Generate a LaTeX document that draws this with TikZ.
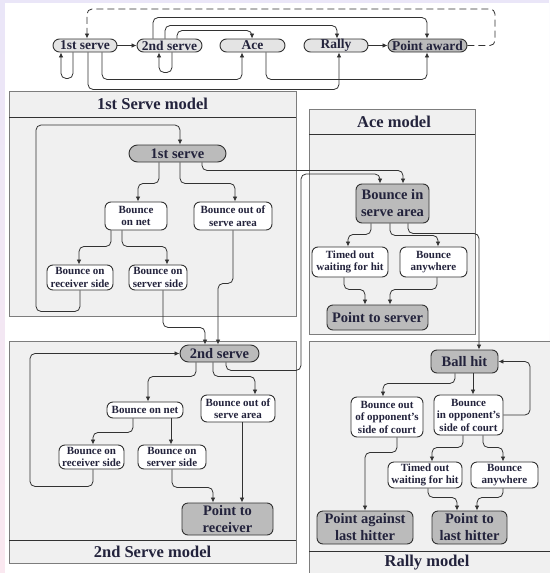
\documentclass[tikz,border=0pt]{standalone}
\usepackage{fontspec}
\setmainfont{Liberation Serif}
\usetikzlibrary{arrows.meta}
\definecolor{ink}{RGB}{35,35,60}
\definecolor{linec}{RGB}{50,50,50}
\definecolor{panelfill}{RGB}{240,240,240}
\definecolor{panelline}{RGB}{125,125,125}
\definecolor{darkfill}{RGB}{187,187,187}
\definecolor{lightfill}{RGB}{228,228,228}
\definecolor{edgeL}{RGB}{234,230,248}
\definecolor{edgeP}{RGB}{250,232,240}
\begin{document}
\begin{tikzpicture}[x=1pt,y=-1pt,
  box/.style={draw=linec, line width=0.9pt, rounded corners=6pt, inner sep=0pt,
    align=center, text=ink, fill=white,
    font=\fontsize{11}{12.5}\selectfont\bfseries},
  bigbox/.style={box, fill=darkfill, font=\fontsize{14.5}{17}\selectfont\bfseries},
  pill/.style={bigbox, rounded corners=8.5pt, minimum height=17pt},
  toppill/.style={box, fill=lightfill, rounded corners=6.5pt, minimum height=13pt,
    font=\fontsize{13.5}{15}\selectfont\bfseries},
  arr/.style={draw=linec, line width=0.8pt, rounded corners=5pt,
    -{Latex[length=5pt,width=4.5pt]}},
  panel/.style={draw=panelline, fill=panelfill, line width=0.7pt},
  sepline/.style={draw=linec, line width=0.8pt},
  ptitle/.style={text=ink, font=\fontsize{16.5}{18}\selectfont\bfseries}
]
% page background with a tinted margin
\shade[top color=edgeL, bottom color=edgeP] (0,0) rectangle (549,573);
\fill[white] (5,3) rectangle (549,573);
\useasboundingbox (0,0) rectangle (549,573);

% ---------- model panels ----------
\draw[panel] (9,91) rectangle (296,316);
\draw[sepline] (9,117) -- (296,117);
\node[ptitle] (title1) at (152.5,104) {1st Serve model};

\draw[panel] (309,109) rectangle (475,334);
\draw[sepline] (309,134.5) -- (475,134.5);
\node[ptitle] (titleA) at (394,122) {Ace model};

\draw[panel] (9,341) rectangle (296,563);
\draw[sepline] (9,540) -- (296,540);
\node[ptitle] (title2) at (152.5,552) {2nd Serve model};

\draw[panel] (309,341) rectangle (560,590);
\draw[sepline] (309,551) -- (560,551);
\node[ptitle] (titleR) at (427,563) {Rally model};

% ---------- overview chain ----------
\node[toppill, minimum width=64pt] (t1) at (85,45.5) {1st serve};
\node[toppill, minimum width=65pt] (t2) at (169.5,45.5) {2nd serve};
\node[toppill, minimum width=65pt] (tA) at (252.5,45.5) {Ace};
\node[toppill, minimum width=64pt] (tR) at (336,45.5) {Rally};
\node[toppill, fill=darkfill, minimum width=79pt] (tP) at (427.5,45.5) {Point award};

\draw[arr] (t1) -- (t2);
\draw[arr] (tR) -- (tP);
\draw[arr, dash pattern=on 7pt off 4pt] (tP.east) -- (495,45.5) -- (495,9) -- (87,9) -- ([xshift=2pt]t1.north);
\draw[arr] ([xshift=-16.5pt]t2.north) -- ++(0,-21) -| ([xshift=-0.5pt]tP.north);
\draw[arr] ([xshift=-4.5pt]t2.north) -- ++(0,-13) -| ([xshift=1pt]tR.north);
\draw[arr] ([xshift=7.5pt]t2.north) -- ++(0,-8) -| ([xshift=-0.5pt]tA.north);
\draw[arr] ([xshift=2.5pt]t2.south) -- ++(0,20) -| ([xshift=-10.5pt]t2.south);
\draw[arr] ([xshift=-12pt]t1.south) -- ++(0,26) -| ([xshift=-24pt]t1.south);
\draw[arr] ([xshift=17pt]t1.south) -- ++(0,27) -| ([xshift=-10.5pt]tA.south);
\draw[arr] ([xshift=13.5pt]tA.south) -- ++(0,27) -| ([xshift=-0.5pt]tP.south);
\draw[arr] ([xshift=3pt]t1.south) -- ++(0,37) -| ([xshift=3pt]tR.south);

% ---------- 1st serve model ----------
\node[pill, minimum width=97pt] (fs1) at (177.5,153.5) {1st serve};
\node[box, minimum width=62pt, minimum height=28pt] (bon1) at (136,216) {Bounce\\on net};
\node[box, minimum width=78pt, minimum height=28pt] (bos1) at (233,216) {Bounce out of\\serve area};
\node[box, minimum width=66pt, minimum height=25pt] (brs1) at (80,277.5) {Bounce on\\receiver side};
\node[box, minimum width=58pt, minimum height=25pt] (bss1) at (158,277.5) {Bounce on\\server side};

% ---------- 2nd serve model ----------
\node[pill, minimum width=79pt] (ss2) at (219.5,353.5) {2nd serve};
\node[box, minimum width=76pt, minimum height=16pt] (bon2) at (145,410) {Bounce on net};
\node[box, minimum width=74pt, minimum height=27pt] (bos2) at (238,408.5) {Bounce out of\\serve area};
\node[box, minimum width=65pt, minimum height=24pt] (brs2) at (91.5,457) {Bounce on\\receiver side};
\node[box, minimum width=68pt, minimum height=24pt] (bss2) at (172,457) {Bounce on\\server side};
\node[bigbox, minimum width=91pt, minimum height=32pt] (ptr) at (227.5,519) {Point to\\receiver};

% ---------- ace model ----------
\node[bigbox, minimum width=73pt, minimum height=39pt] (bsa) at (392.5,203.5) {Bounce in\\serve area};
\node[box, minimum width=76pt, minimum height=30pt] (tow1) at (350,262) {Timed out\\waiting for hit};
\node[box, minimum width=67pt, minimum height=30pt] (ba1) at (433.5,262) {Bounce\\anywhere};
\node[bigbox, minimum width=101pt, minimum height=25pt] (pts) at (377.5,317.5) {Point to server};

% ---------- rally model ----------
\node[bigbox, minimum width=67pt, minimum height=23pt] (bh) at (464.5,361.5) {Ball hit};
\node[box, minimum width=72pt, minimum height=40pt] (boo) at (387,417) {Bounce out\\of opponent's\\side of court};
\node[box, minimum width=69pt, minimum height=40pt] (bio) at (468.5,415) {Bounce\\in opponent's\\side of court};
\node[box, minimum width=74pt, minimum height=26pt] (tow2) at (425,475) {Timed out\\waiting for hit};
\node[box, minimum width=67pt, minimum height=26pt] (ba2) at (504.5,475) {Bounce\\anywhere};
\node[bigbox, minimum width=96pt, minimum height=33pt] (pal) at (365,527.5) {Point against\\last hitter};
\node[bigbox, minimum width=75pt, minimum height=33pt] (ptl) at (469.5,527.5) {Point to\\last hitter};

% ---------- transitions: 1st serve ----------
\draw[arr] ([xshift=-18.5pt]fs1.south) -- ++(0,21) -| ([xshift=2pt]bon1.north);
\draw[arr] ([xshift=2.5pt]fs1.south) -- ++(0,21) -| ([xshift=2pt]bos1.north);
\draw[arr] ([xshift=24.5pt]fs1.south) -- ++(0,8) -| ([xshift=10.5pt]bsa.north);
\draw[arr] ([xshift=-25pt]bon1.south) -- ++(0,16) -| ([xshift=-1pt]brs1.north);
\draw[arr] ([xshift=-14pt]bon1.south) -- ++(0,16) -| ([xshift=9pt]bss1.north);
\draw[arr] (bos1.south) -- ++(0,53) -| ([xshift=-1.5pt]ss2.north);
\draw[arr] ([xshift=5pt]bss1.south) -- ++(0,37) -| ([xshift=-14.5pt]ss2.north);
\draw[arr] (brs1.south) -- ++(0,21) -| (36,125) -| ([xshift=2.5pt]fs1.north);

% ---------- transitions: 2nd serve ----------
\draw[arr] ([xshift=-23.5pt]ss2.south) -- ++(0,14) -| ([xshift=3pt]bon2.north);
\draw[arr] ([xshift=-6.5pt]ss2.south) -- ++(0,14) -| ([xshift=17pt]bos2.north);
\draw[arr] ([xshift=6.5pt]ss2.south) -- ++(0,8) -| (301,174) -| ([xshift=-12.5pt]bsa.north);
\draw[arr] ([xshift=-12pt]bon2.south) -- ++(0,14) -| ([xshift=1.5pt]brs2.north);
\draw[arr] ([xshift=26pt]bon2.south) -- ([xshift=-1pt]bss2.north);
\draw[arr] ([xshift=1.5pt]brs2.south) -- ++(0,17) -| (30,353.5) -- (ss2.west);
\draw[arr] (bss2.south) -- ++(0,18) -| ([xshift=-14.5pt]ptr.north);
\draw[arr] ([xshift=4pt]bos2.south) -- ([xshift=14.5pt]ptr.north);

% ---------- transitions: ace ----------
\draw[arr] ([xshift=-21.5pt]bsa.south) -- ++(0,11) -| ([xshift=-2pt]tow1.north);
\draw[arr] ([xshift=-2.5pt]bsa.south) -- ++(0,12) -| ([xshift=4.5pt]ba1.north);
\draw[arr] ([xshift=15.5pt]bsa.south) -- ++(0,10) -| ([xshift=14.5pt]bh.north);
\draw[arr] ([xshift=-6pt]tow1.south) -- ++(0,12) -| ([xshift=-12.5pt]pts.north);
\draw[arr] ([xshift=3.5pt]ba1.south) -- ++(0,12) -| ([xshift=12.5pt]pts.north);

% ---------- transitions: rally ----------
\draw[arr] ([xshift=-9.5pt]bh.south) -- ++(0,10) -| ([xshift=-4pt]boo.north);
\draw[arr] ([xshift=8.5pt]bh.south) -- ([xshift=4.5pt]bio.north);
\draw[arr] (bio.east) -- (530,415) |- (bh.east);
\draw[arr] ([xshift=-5.5pt]bio.south) -- ++(0,12) -| ([xshift=7pt]tow2.north);
\draw[arr] ([xshift=14.5pt]bio.south) -- ++(0,12) -| ([xshift=-1.5pt]ba2.north);
\draw[arr] ([xshift=10pt]boo.south) -- ++(0,15) -| (pal.north);
\draw[arr] ([xshift=3pt]tow2.south) -- ++(0,9) -| ([xshift=-12.5pt]ptl.north);
\draw[arr] ([xshift=-1.5pt]ba2.south) -- ++(0,9) -| ([xshift=7.5pt]ptl.north);
\end{tikzpicture}
\end{document}
